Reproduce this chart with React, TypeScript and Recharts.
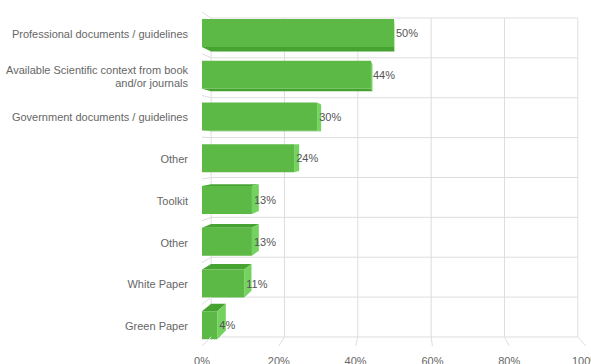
import { BarChart, Bar, XAxis, YAxis, CartesianGrid, LabelList } from 'recharts';

const categories = [
  'Professional documents / guidelines',
  'Available Scientific context from book and/or journals',
  'Government documents / guidelines',
  'Other',
  'Toolkit',
  'Other',
  'White Paper',
  'Green Paper',
];
const shares = [50, 44, 30, 24, 13, 13, 11, 4];
const xTicks = [0, 20, 40, 60, 80, 100];

const data = categories.map((name, i) => ({ name, value: shares[i] }));

// layout
const W = 591;
const H = 364;
const LEFT = 202;
const RIGHT = 5;
const TOP = 12;
const X_AXIS_H = 18;
const PLOT_W = W - LEFT - RIGHT;
const PLOT_H = H - TOP - X_AXIS_H;
const SLOT = PLOT_H / categories.length;

// fake 3d: points recede toward a vanishing point
const VP = { x: 405, y: 145 };
const K = 0.045;
const backX = (x: number) => x + (VP.x - x) * K;
const backY = (y: number) => y + (VP.y - y) * K;

const GREEN = '#5cb946';
const GREEN_DARK = '#47a331';
const GREEN_LIGHT = '#74d35e';
const GRID = '#dedede';
const FONT = 'Liberation Sans, Arial, sans-serif';

const wrap = (text: string, max = 38) => {
  const lines: string[] = [];
  let cur = '';
  text.split(' ').forEach((w) => {
    if (cur && (cur + ' ' + w).length > max) {
      lines.push(cur);
      cur = w;
    } else {
      cur = cur ? cur + ' ' + w : w;
    }
  });
  if (cur) lines.push(cur);
  return lines;
};

const Bar3D = (props: any) => {
  const { x, y, width, height } = props;
  const x1 = x + width;
  const y1 = y + height;
  const faces = [];
  if (y > VP.y) {
    faces.push(
      <polygon key="top" fill={GREEN_DARK}
        points={`${x},${y} ${x1},${y} ${backX(x1)},${backY(y)} ${backX(x)},${backY(y)}`} />
    );
  }
  if (y1 < VP.y) {
    faces.push(
      <polygon key="bottom" fill={GREEN_DARK}
        points={`${x},${y1} ${x1},${y1} ${backX(x1)},${backY(y1)} ${backX(x)},${backY(y1)}`} />
    );
  }
  if (x1 < VP.x) {
    faces.push(
      <polygon key="side" fill={GREEN_LIGHT}
        points={`${x1},${y} ${backX(x1)},${backY(y)} ${backX(x1)},${backY(y1)} ${x1},${y1}`} />
    );
  }
  return (
    <g>
      {faces}
      <rect x={x} y={y} width={width} height={height} fill={GREEN} />
    </g>
  );
};

const CategoryTick = (props: any) => {
  const { y, payload, index } = props;
  const lines = wrap(String(payload.value));
  const top = y - SLOT / 2;
  const bottom = y + SLOT / 2;
  return (
    <g>
      <line x1={LEFT} y1={top} x2={backX(LEFT)} y2={backY(top)} stroke={GRID} />
      {index === categories.length - 1 && (
        <line x1={LEFT} y1={bottom} x2={backX(LEFT)} y2={backY(bottom)} stroke={GRID} />
      )}
      <text x={LEFT - 14} y={y} textAnchor="end" fontSize={11} fontFamily={FONT} fill="#666">
        {lines.map((l, i) => (
          <tspan key={i} x={LEFT - 14} dy={i === 0 ? (5 - (lines.length - 1) * 5.5) : 13}>{l}</tspan>
        ))}
      </text>
    </g>
  );
};

const PercentTick = (props: any) => {
  const { x, payload } = props;
  const bottom = TOP + PLOT_H;
  return (
    <g>
      <line x1={x} y1={bottom} x2={backX(x)} y2={backY(bottom)} stroke={GRID} />
      <text x={x} y={bottom + 19} textAnchor="middle" fontSize={11} fontFamily={FONT} fill="#666">
        {payload.value}%
      </text>
    </g>
  );
};

const ValueLabel = (props: any) => {
  const { x, y, width, height, value } = props;
  return (
    <text x={x + width + 2} y={y + height / 2 + 4} fontSize={11} fontFamily={FONT} fill="#555">
      {value}%
    </text>
  );
};

const wallLeft = backX(LEFT);
const wallRight = backX(LEFT + PLOT_W);
const wallTop = backY(TOP);
const wallBottom = backY(TOP + PLOT_H);

export default function App() {
  return (
    <div style={{ position: 'absolute', left: 0, top: 0, width: W, height: H, background: '#fff' }}>
      <BarChart
        width={W}
        height={H}
        data={data}
        layout="vertical"
        margin={{ top: TOP, right: RIGHT, bottom: 0, left: 0 }}
      >
        <CartesianGrid
          stroke={GRID}
          x={wallLeft}
          y={wallTop}
          width={wallRight - wallLeft}
          height={wallBottom - wallTop}
          verticalCoordinatesGenerator={({ offset }: any) =>
            xTicks.map((t) => backX(offset.left + (t / 100) * offset.width))
          }
          horizontalCoordinatesGenerator={({ offset }: any) =>
            categories.map((_, i) => backY(offset.top + i * (offset.height / categories.length)))
              .concat([backY(offset.top + offset.height)])
          }
        />
        <XAxis
          type="number"
          domain={[0, 100]}
          ticks={xTicks}
          height={X_AXIS_H}
          axisLine={false}
          tickLine={false}
          tick={<PercentTick />}
          interval={0}
        />
        <YAxis
          type="category"
          dataKey="name"
          width={LEFT}
          axisLine={false}
          tickLine={false}
          tick={<CategoryTick />}
          interval={0}
        />
        <Bar dataKey="value" barSize={28} shape={<Bar3D />} isAnimationActive={false}>
          <LabelList dataKey="value" content={<ValueLabel />} />
        </Bar>
      </BarChart>
    </div>
  );
}
